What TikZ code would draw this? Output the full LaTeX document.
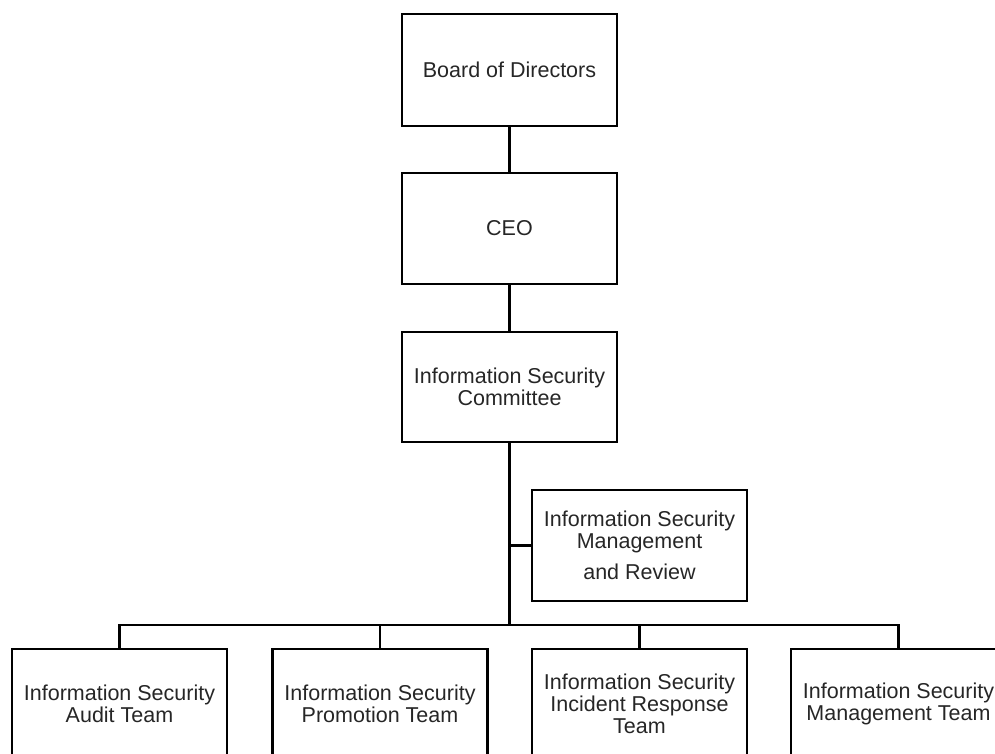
\documentclass[tikz,border=0pt]{standalone}
\usepackage{fontspec}
\setmainfont{Liberation Sans}
\begin{document}
\begin{tikzpicture}[x=1pt,y=-1pt,
  unit/.style={draw,line width=2.6pt,rectangle,minimum width=215pt,minimum height=110pt,
    align=center,inner sep=0pt,font=\fontsize{21.5}{22}\selectfont,text=black!85},
  link/.style={line width=2.4pt}]
\useasboundingbox (0,0) rectangle (995,753);
\clip (0,0) rectangle (995,753);

% top of the chain
\node[unit,minimum height=112pt] (board) at (509.5,70) {Board of Directors};
\node[unit,minimum height=111pt] (ceo) at (509.5,228.5) {CEO};
\node[unit] (comm) at (509.5,387) {Information Security\\Committee};

% staff unit beside the trunk
\node[unit,minimum height=111pt] (review) at (639.5,545.5) {Information Security\\Management\\[9pt]and Review};

% teams along the bottom
\node[unit] (audit) at (119.5,704) {Information Security\\Audit Team};
\node[unit] (promo) at (380,704) {Information Security\\Promotion Team};
\node[unit] (incident) at (639.5,704) {Information Security\\Incident Response\\Team};
\node[unit] (manage) at (898.5,704) {Information Security\\Management Team};

\coordinate (bus) at (509.5,625);

% connectors
\draw[link] (board.south) -- (ceo.north);
\draw[link] (ceo.south) -- (comm.north);
\draw[link] (comm.south) -- (bus);
\draw[link] (review.west) -- (review.west -| bus);
\draw[link] (audit.north) -- (audit.north |- bus) -- (manage.north |- bus) -- (manage.north);
\draw[link] (promo.north) -- (promo.north |- bus);
\draw[link] (incident.north) -- (incident.north |- bus);
\end{tikzpicture}
\end{document}
